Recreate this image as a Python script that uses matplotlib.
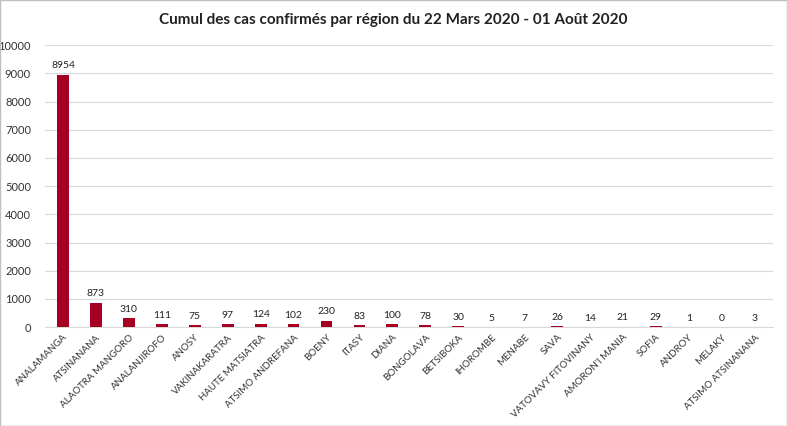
import numpy as np
import matplotlib.pyplot as plt

regions = ["ANALAMANGA", "ATSINANANA", "ALAOTRA MANGORO", "ANALANJIROFO", "ANOSY",
           "VAKINAKARATRA", "HAUTE MATSIATRA", "ATSIMO ANDREFANA", "BOENY", "ITASY",
           "DIANA", "BONGOLAVA", "BETSIBOKA", "IHOROMBE", "MENABE", "SAVA",
           "VATOVAVY FITOVINANY", "AMORON'I MANIA", "SOFIA", "ANDROY", "MELAKY",
           "ATSIMO ATSINANANA"]
cases = [8954, 873, 310, 111, 75, 97, 124, 102, 230, 83, 100, 78, 30, 5, 7, 26,
         14, 21, 29, 1, 0, 3]

plt.rcParams['font.family'] = ['Lato', 'DejaVu Sans']

fig = plt.figure(figsize=(7.87, 4.26), dpi=100)
ax = fig.add_axes([0.057, 0.232, 0.925, 0.662])

x = np.arange(len(regions))
ax.bar(x, cases, width=0.36, color='#A50021', zorder=3)
for xi, v in zip(x, cases):
    ax.text(xi, v + 150, str(v), ha='center', va='bottom', fontsize=7.5, color='#222222')

ax.set_ylim(0, 10000)
ax.set_yticks(np.arange(0, 10001, 1000))
ax.set_xlim(-0.55, len(regions) - 0.45)
ax.set_xticks(x)
ax.set_xticklabels(regions, rotation=45, ha='right', rotation_mode='anchor', fontsize=7, color='#333333')
ax.tick_params(axis='y', labelsize=8, length=0, labelcolor='#333333', pad=10)
ax.tick_params(axis='x', length=0, pad=4)
ax.grid(axis='y', color='#d9d9d9', linewidth=0.8, zorder=0)
for s in ['top', 'right', 'left']:
    ax.spines[s].set_visible(False)
ax.spines['bottom'].set_color('#d9d9d9')

fig.suptitle("Cumul des cas confirmés par région du 22 Mars 2020 - 01 Août 2020",
             y=0.97, fontsize=11, fontweight='bold', color='#222222')
fig.patches.append(plt.Rectangle((0, 0), 1, 1, transform=fig.transFigure,
                                 fill=False, edgecolor='#bfbfbf', linewidth=1))
fig.savefig('out.png', dpi=100)
